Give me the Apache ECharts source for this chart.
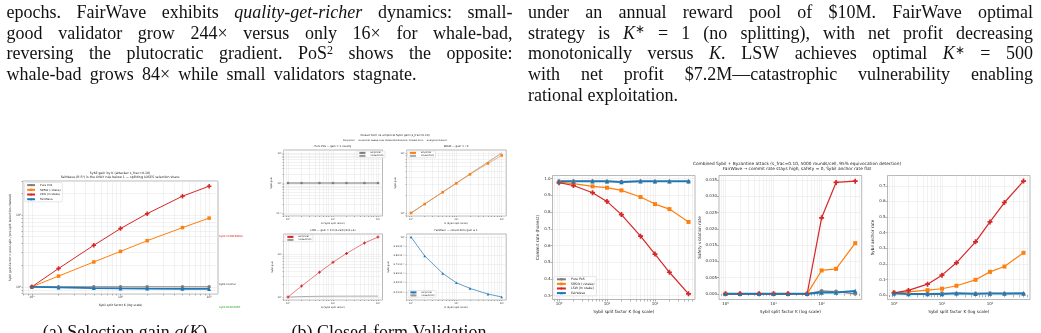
<!DOCTYPE html>
<html>
<head>
<meta charset="utf-8">
<script src="https://cdn.jsdelivr.net/npm/echarts@6/dist/echarts.min.js"></script>
<style>
html, body { margin: 0; padding: 0; background: #fff; }
#main { width: 1041px; height: 333px; }
</style>
</head>
<body>
<div id="main"></div>
<script>
// ---- data: split factor K and gains (figure a / b)
var kValues = [1, 2, 5, 10, 20, 50, 100];
var gainPoS = [1, 1, 1, 1, 1, 1, 1];
var gainSRSW = [1, 1.41, 2.22, 3.12, 4.4, 6.7, 9.1];
var gainLSW = [1, 1.8, 3.8, 6.5, 10.5, 18.4, 25.4];
var gainFairWave = [1, 0.979, 0.96, 0.95, 0.944, 0.938, 0.935];
var closedPoS = [1, 1, 1, 1, 1, 1, 1];
var closedSRSW = [1, 1.414, 2.236, 3.162, 4.472, 7.071, 10];
var closedLSW = [1, 1.024, 1.039, 1.044, 1.047, 1.048, 1.049];
var closedFairWave = [];

// ---- data: combined Sybil + Byzantine attack
var kCombined = [1, 2, 5, 10, 20, 50, 100, 200, 500];
var commitPoS = [0.984, 0.984, 0.984, 0.983, 0.982, 0.984, 0.983, 0.983, 0.983];
var commitSRSW = [0.979, 0.970, 0.954, 0.946, 0.930, 0.890, 0.848, 0.818, 0.741];
var commitLSW = [0.976, 0.959, 0.916, 0.864, 0.785, 0.656, 0.549, 0.440, 0.311];
var commitFW = [0.985, 0.985, 0.985, 0.985, 0.980, 0.985, 0.985, 0.984, 0.984];
var safetyPoS = [0, 0, 0, 0, 0, 0, 0.0009, 0.0007, 0];
var safetySRSW = [0, 0, 0, 0, 0, 0, 0.0072, 0.0077, 0.0156];
var safetyLSW = [0, 0, 0, 0, 0, 0, 0.0234, 0.0343, 0.0347];
var safetyFW = [0, 0, 0, 0, 0, 0, 0.0004, 0.0004, 0.0009];
var anchorPoS = [0.010, 0.010, 0.010, 0.012, 0.010, 0.010, 0.012, 0.010, 0.008];
var anchorSRSW = [0.015, 0.021, 0.032, 0.041, 0.060, 0.098, 0.149, 0.183, 0.271];
var anchorLSW = [0.015, 0.030, 0.070, 0.128, 0.207, 0.341, 0.469, 0.593, 0.730];
var anchorFW = [0.012, 0.008, 0.008, 0.008, 0.012, 0.009, 0.010, 0.010, 0.012];

// ---- tick labels
var decadeTicks = [0.1, 1, 10, 100];
var fairwaveTicks = [0.94, 0.95, 0.96, 0.97, 0.98, 0.99, 1];
var commitTicks = [0.3, 0.4, 0.5, 0.6, 0.7, 0.8, 0.9, 1.0];
var safetyTicks = [0, 0.005, 0.01, 0.015, 0.02, 0.025, 0.03, 0.035];
var anchorTicks = [0, 0.1, 0.2, 0.3, 0.4, 0.5, 0.6, 0.7];

var textLeft = [
    'epochs. FairWave exhibits {i|quality-get-richer} dynamics: small-',
    'good validator grow 244× versus only 16× for whale-bad,',
    'reversing the plutocratic gradient. PoS{s|2} shows the opposite:',
    'whale-bad grows 84× while small validators stagnate.'
];
var textRight = [
    'under an annual reward pool of $10M. FairWave optimal',
    'strategy is {i|K}{s|∗} = 1 (no splitting), with net profit decreasing',
    'monotonically versus {i|K}. LSW achieves optimal {i|K}{s|∗} = 500',
    'with net profit $7.2M—catastrophic vulnerability enabling',
    'rational exploitation.'
];

var FONT = 'DejaVu Sans';
var SERIF = 'Liberation Serif';
var GRAY = '#7f7f7f', ORANGE = '#ff7f0e', RED = '#d62728', BLUE = '#1f77b4';
var PLUS = 'path://M3.3,0H6.7V3.3H10V6.7H6.7V10H3.3V6.7H0V3.3H3.3Z';

var SUPS = {'-': '⁻', '0': '⁰', '1': '¹', '2': '²', '3': '³', '4': '⁴', '5': '⁵', '6': '⁶', '7': '⁷', '8': '⁸', '9': '⁹'};
function powLabel(v) {
    var e = Math.round(Math.log10(v));
    return '10' + String(e).split('').map(function (c) { return SUPS[c]; }).join('');
}
function fwLabel(v) {
    if (Math.abs(v - 1) < 1e-9) return '10⁰';
    return (v * 10).toFixed(1) + '×10⁻¹';
}
// matplotlib style minor ticks 1..9 x 10^n
function minorLog(min, max) {
    var out = [];
    for (var e = -2; e <= 3; e++) {
        for (var m = 1; m < 10; m++) {
            var v = +(m * Math.pow(10, e)).toPrecision(3);
            if (v >= min && v <= max) out.push(v);
        }
    }
    return out;
}

var grids = [
    {left: 23, top: 181, width: 195, height: 113},
    {left: 283.5, top: 150, width: 99, height: 66},
    {left: 406.5, top: 150, width: 99.7, height: 66},
    {left: 283.5, top: 234, width: 99, height: 66},
    {left: 406.5, top: 234, width: 99.7, height: 66},
    {left: 552.5, top: 175.5, width: 142.5, height: 124},
    {left: 719, top: 175.5, width: 142.7, height: 124},
    {left: 887.5, top: 175.5, width: 142.5, height: 124}
].map(function (g) {
    return Object.assign({show: true, borderColor: '#999', borderWidth: 0.7, backgroundColor: '#fff',
        containLabel: false, outerBoundsMode: 'none'}, g);
});

function axis(o) {
    return {
        type: o.type, gridIndex: o.grid, min: o.min, max: o.max, logBase: 10,
        name: o.name, nameLocation: 'middle', nameGap: o.gap, nameRotate: o.rot || 0,
        nameTextStyle: {fontFamily: FONT, fontSize: o.nfs, color: '#222'},
        axisLine: {show: false},
        axisTick: {show: true, length: o.tl || 1.5, customValues: o.ticks,
            lineStyle: {color: '#666', width: 0.5}},
        axisLabel: {customValues: o.labels, formatter: o.fmt, fontSize: o.fs, fontFamily: FONT,
            color: '#333', margin: o.margin || 2, hideOverlap: false},
        splitLine: {show: true, lineStyle: {color: '#e4e4e4', width: 0.5}},
        minorTick: {show: false}, minorSplitLine: {show: false}
    };
}

var xAxes = [], yAxes = [];
// (a)
xAxes.push(axis({type: 'log', grid: 0, min: 0.7943, max: 125.9, labels: decadeTicks, ticks: minorLog(0.7943, 125.9),
    fmt: powLabel, fs: 3, name: 'Sybil split factor K (log scale)', gap: 9.5, nfs: 3}));
yAxes.push(axis({type: 'log', grid: 0, min: 0.793, max: 30.0, labels: decadeTicks, ticks: minorLog(0.793, 30),
    fmt: powLabel, fs: 3, name: 'Sybil gain factor = post-split / pre-split (selection channel)', gap: 10.5, rot: 90, nfs: 3}));
// (b)
var bY = [
    {min: 0.0794, max: 12.59, labels: decadeTicks, fmt: powLabel},
    {min: 0.891, max: 11.22, labels: decadeTicks, fmt: powLabel},
    {min: 0.851, max: 29.9, labels: decadeTicks, fmt: powLabel},
    {min: 0.9318, max: 1.00337, labels: fairwaveTicks, fmt: fwLabel}
];
bY.forEach(function (b, i) {
    xAxes.push(axis({type: 'log', grid: i + 1, min: 0.7943, max: 125.9, labels: decadeTicks,
        ticks: minorLog(0.7943, 125.9), fmt: powLabel, fs: 2.4, name: 'K (Sybil split factor)', gap: 6.5, nfs: 2.4, tl: 1}));
    yAxes.push(axis({type: 'log', grid: i + 1, min: b.min, max: b.max, labels: b.labels,
        ticks: i === 3 ? fairwaveTicks : minorLog(b.min, b.max), fmt: b.fmt, fs: 2.4,
        name: 'Sybil gain', gap: i === 3 ? 16 : 10, rot: 90, nfs: 2.4, tl: 1}));
});
// combined attack
var cY = [
    {min: 0.277, max: 1.019, labels: commitTicks, d: 1, name: 'Commit rate (honest)', gap: 12},
    {min: -0.00174, max: 0.03644, labels: safetyTicks, d: 3, name: 'Safety violation rate', gap: 17},
    {min: -0.028, max: 0.766, labels: anchorTicks, d: 1, name: 'Sybil anchor rate', gap: 12}
];
cY.forEach(function (c, i) {
    xAxes.push(axis({type: 'log', grid: i + 5, min: 0.7328, max: 682.3, labels: decadeTicks,
        ticks: minorLog(0.7328, 682.3), fmt: powLabel, fs: 4, name: 'Sybil split factor K (log scale)', gap: 10.5, nfs: 4.2, tl: 2}));
    yAxes.push(axis({type: 'value', grid: i + 5, min: c.min, max: c.max, labels: c.labels, ticks: c.labels,
        fmt: (function (d) { return function (v) { return v.toFixed(d); }; })(c.d), fs: 4,
        name: c.name, gap: c.gap, rot: 90, nfs: 4.2, tl: 2}));
});

function line(name, grid, xs, ys, color, sym, size, lw, z) {
    return {
        type: 'line', name: name, xAxisIndex: grid, yAxisIndex: grid, z: z || 2,
        data: ys.map(function (y, i) { return [xs[i], y]; }),
        symbol: sym, symbolSize: size, showSymbol: sym !== 'none', showAllSymbol: true,
        lineStyle: {color: color, width: lw}, itemStyle: {color: color},
        silent: true, animation: false
    };
}

var series = [
    line('Pure PoS#a', 0, kValues, gainPoS, GRAY, 'circle', 3.5, 1),
    line('SRSW (√stake)#a', 0, kValues, gainSRSW, ORANGE, 'rect', 3.5, 1),
    line('LSW (ln stake)#a', 0, kValues, gainLSW, RED, PLUS, 4.5, 1),
    line('FairWave#a', 0, kValues, gainFairWave, BLUE, 'triangle', 4, 1.8),

    line('Empirical#1', 1, kValues, gainPoS, GRAY, 'circle', 2.6, 0.6, 3),
    line('Closed-form#1', 1, kValues, closedPoS, '#999', 'none', 0, 0.8),
    line('Empirical#2', 2, kValues, gainSRSW, ORANGE, 'rect', 2.6, 0.6, 3),
    line('Closed-form#2', 2, kValues, closedSRSW, '#aaa', 'none', 0, 1),
    line('Empirical#3', 3, kValues, gainLSW, RED, PLUS, 3, 0.6, 3),
    line('Closed-form#3', 3, kValues, closedLSW, '#999', 'none', 0, 0.8),
    line('Empirical#4', 4, kValues, gainFairWave, BLUE, 'triangle', 2.6, 0.7, 3),
    line('Closed-form#4', 4, kValues, closedFairWave, '#999', 'none', 0, 0.8),

    line('Pure PoS#c', 5, kCombined, commitPoS, GRAY, 'circle', 4, 1.2),
    line('SRSW (√stake)#c', 5, kCombined, commitSRSW, ORANGE, 'rect', 4, 1.2),
    line('LSW (ln stake)#c', 5, kCombined, commitLSW, RED, PLUS, 5, 1.2),
    line('FairWave#c', 5, kCombined, commitFW, BLUE, 'triangle', 4.5, 2),
    line('Pure PoS#d', 6, kCombined, safetyPoS, GRAY, 'circle', 4, 1.2),
    line('SRSW (√stake)#d', 6, kCombined, safetySRSW, ORANGE, 'rect', 4, 1.2),
    line('LSW (ln stake)#d', 6, kCombined, safetyLSW, RED, PLUS, 5, 1.2),
    line('FairWave#d', 6, kCombined, safetyFW, BLUE, 'triangle', 4.5, 2),
    line('Pure PoS#e', 7, kCombined, anchorPoS, GRAY, 'circle', 4, 1.2),
    line('SRSW (√stake)#e', 7, kCombined, anchorSRSW, ORANGE, 'rect', 4, 1.2),
    line('LSW (ln stake)#e', 7, kCombined, anchorLSW, RED, PLUS, 5, 1.2),
    line('FairWave#e', 7, kCombined, anchorFW, BLUE, 'triangle', 4.5, 2)
];

function legendCfg(names, left, top, fs, gap) {
    return {
        data: names, left: left, top: top, orient: 'vertical', itemGap: gap,
        itemWidth: fs * 2.8, itemHeight: fs, padding: [fs * 0.4, fs * 0.6],
        backgroundColor: 'rgba(255,255,255,0.85)', borderColor: '#d0d0d0', borderWidth: 0.5, borderRadius: 1,
        textStyle: {fontSize: fs, fontFamily: FONT, color: '#222'},
        formatter: function (n) { return n.split('#')[0]; },
        selectedMode: false
    };
}
var legends = [
    legendCfg(['Pure PoS#a', 'SRSW (√stake)#a', 'LSW (ln stake)#a', 'FairWave#a'], 24.5, 182.5, 2.8, 1.7),
    legendCfg(['Empirical#1', 'Closed-form#1'], 357, 151, 2.2, 1),
    legendCfg(['Empirical#2', 'Closed-form#2'], 407.5, 151, 2.2, 1),
    legendCfg(['Empirical#3', 'Closed-form#3'], 285, 235, 2.2, 1),
    legendCfg(['Empirical#4', 'Closed-form#4'], 408, 290.5, 2.2, 1),
    legendCfg(['Pure PoS#c', 'SRSW (√stake)#c', 'LSW (ln stake)#c', 'FairWave#c'], 554, 276.5, 3.2, 1.6)
];

// ---- graphic text
var els = [];
function txt(x, y, s, fs, extra) {
    var st = Object.assign({text: s, fontSize: fs, fontFamily: FONT, fill: '#222', align: 'center', verticalAlign: 'middle'}, extra || {});
    els.push({type: 'text', x: x, y: y, silent: true, z: 100, style: st});
}
txt(120, 173.3, 'Sybil gain by K (attacker s_frac=0.10)', 3.2);
txt(120, 177.4, 'FairWave (R·S⁵) is the ONLY rule below 1 — splitting LOSES selection share', 3.2);
txt(219, 236, 'Sybil-VULNERABLE', 2.6, {align: 'left', fill: RED});
txt(219, 284, 'Sybil-neutral', 2.6, {align: 'left', fill: '#333'});
txt(219, 307, 'Sybil-RESISTANT', 2.6, {align: 'left', fill: '#2ca02c'});

txt(395, 135, 'Closed-form vs empirical Sybil gain (s_frac=0.10)', 2.8);
txt(395, 140.5, 'Empirical = numerical sweep over stake distributions; Closed-form = analytical bound', 2.4);
txt(333, 146, 'Pure PoS — gain = 1 exactly', 2.6);
txt(456, 146, 'SRSW — gain = √K', 2.6);
txt(333, 230.5, 'LSW — gain = K·ln(1+S/K)/ln(1+S)', 2.6);
txt(456, 230.5, 'FairWave — closed-form gain ≤ 1', 2.6);

txt(797, 163.5, 'Combined Sybil + Byzantine attack (s_frac=0.10, 5000 rounds/cell, 95% equivocation detection)', 4.3);
txt(797, 169.3, 'FairWave → commit rate stays high, safety = 0, Sybil anchor rate flat', 4.3);

// body text, justified word by word like the paper
var BODY = 18, SUP = 12, LH = 20.7;
var richBody = {
    i: {fontStyle: 'italic', fontSize: BODY, fontFamily: SERIF, fill: '#111'},
    s: {fontSize: SUP, fontFamily: SERIF, fill: '#111', lineHeight: SUP, verticalAlign: 'top'}
};
var ctx = document.createElement('canvas').getContext('2d');
function mw(s, st) {
    if (!s) return 0;
    ctx.font = (st === 'i' ? 'italic ' : '') + (st === 's' ? SUP : BODY) + 'px "' + SERIF + '"';
    return ctx.measureText(s).width;
}
function wordWidth(w) {
    var re = /\{(\w)\|([^}]*)\}/g, last = 0, m, width = 0;
    while ((m = re.exec(w))) {
        width += mw(w.slice(last, m.index), '');
        width += mw(m[2], m[1]);
        last = re.lastIndex;
    }
    return width + mw(w.slice(last), '');
}
// lastEnd: right edge of the last (short) line, null = natural spacing
function para(lines, x0, x1, y0, lastEnd) {
    lines.forEach(function (ln, li) {
        var words = ln.split(' ');
        var ws = words.map(wordWidth);
        var total = ws.reduce(function (a, b) { return a + b; }, 0);
        var isLast = li === lines.length - 1;
        var end = isLast ? lastEnd : x1;
        var gap = end ? (end - x0 - total) / (words.length - 1) : mw(' ', '');
        var x = x0;
        words.forEach(function (w, i) {
            els.push({type: 'text', x: x, y: y0 + li * LH, silent: true, z: 100, style: {
                text: w, fontSize: BODY, fontFamily: SERIF, fill: '#111', lineHeight: 20,
                align: 'left', verticalAlign: 'middle', rich: richBody}});
            x += ws[i] + gap;
        });
    });
}
para(textLeft, 6.5, 512.5, 13.2, 416.5);
para(textRight, 528, 1033, 13.2, null);

// captions (cut by the bottom edge)
els.push({type: 'text', x: 125, y: 333, silent: true, style: {text: '(a) Selection gain {i|g}({i|K})',
    fontSize: BODY, fontFamily: SERIF, fill: '#111', align: 'center', verticalAlign: 'middle', rich: richBody}});
els.push({type: 'text', x: 389, y: 333, silent: true, style: {text: '(b) Closed-form Validation',
    fontSize: BODY, fontFamily: SERIF, fill: '#111', align: 'center', verticalAlign: 'middle'}});

var chart = echarts.init(document.getElementById('main'), null, {renderer: 'canvas'});
try {
    chart.setOption({
        animation: false,
        backgroundColor: '#fff',
        textStyle: {fontFamily: FONT},
        grid: grids,
        xAxis: xAxes,
        yAxis: yAxes,
        legend: legends,
        series: series,
        graphic: {elements: els}
    });
} catch (e) {
    console.warn(e);
}
</script>
</body>
</html>
